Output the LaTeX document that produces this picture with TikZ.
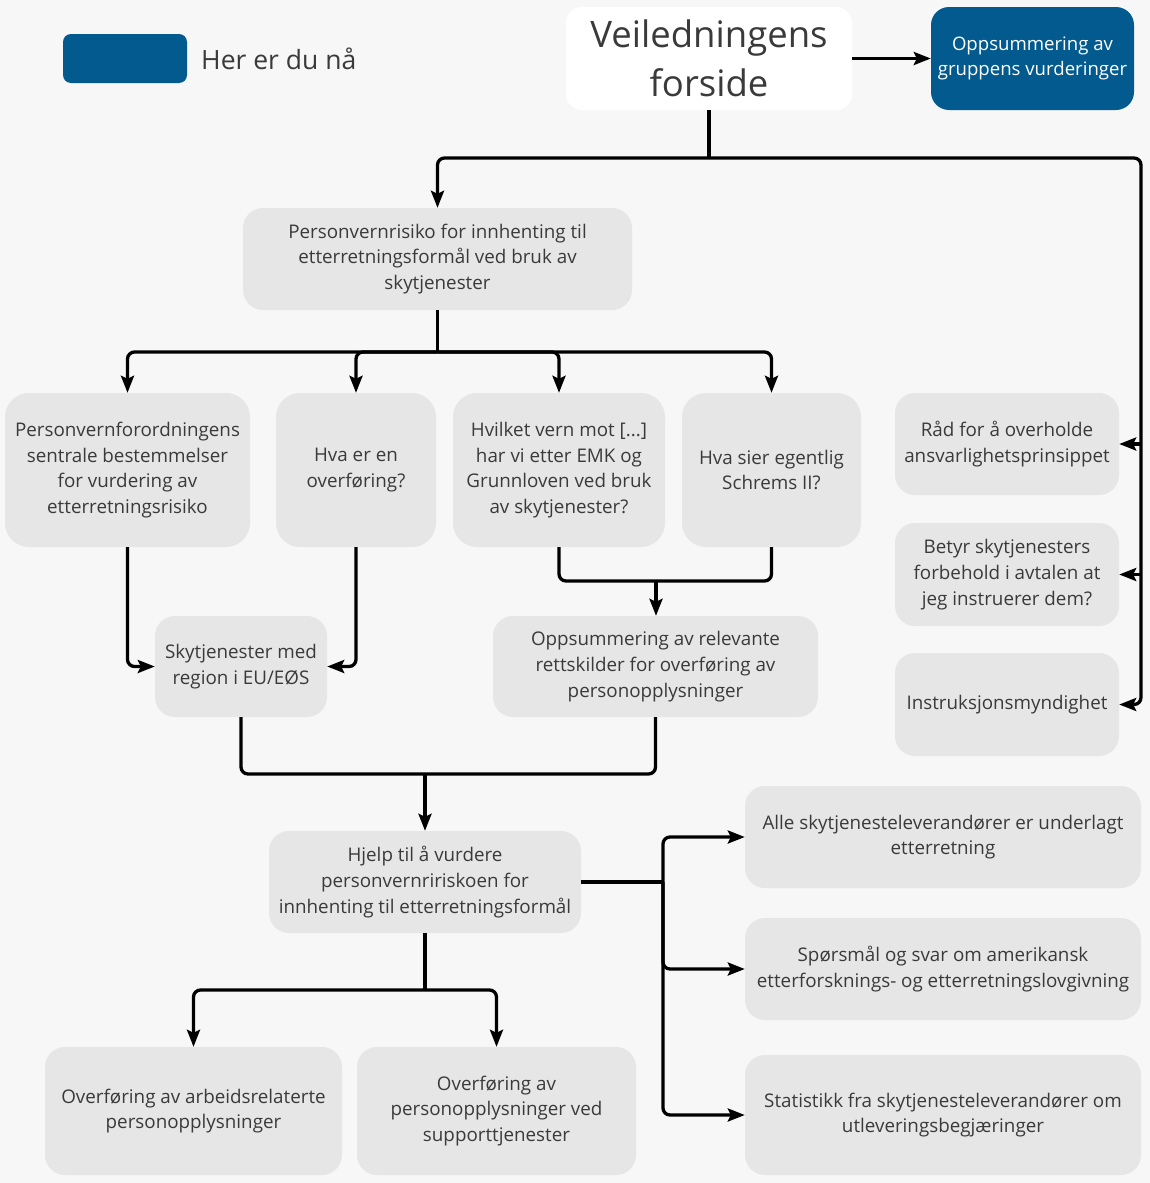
\documentclass[tikz,border=0pt]{standalone}
\usepackage{fontspec}
\setmainfont{Open Sans}
\usetikzlibrary{arrows.meta}
\definecolor{bg}{HTML}{F7F7F7}
\definecolor{boxgrey}{HTML}{E6E6E6}
\definecolor{txt}{HTML}{3A3A3A}
\definecolor{navy}{HTML}{035A8E}
\begin{document}
\begin{tikzpicture}[x=1pt,y=-1pt,
  box/.style={fill=boxgrey,rounded corners=20pt,inner sep=0pt,align=center,text=txt,
    font=\fontsize{18.8}{25.7}\selectfont},
  bluebox/.style={fill=navy,rounded corners=18pt,inner sep=0pt,align=center,text=white,
    font=\fontsize{18.6}{25}\selectfont},
  conn/.style={line width=3.3pt,draw=black,rounded corners=7pt},
  arr/.style={conn,-{Stealth[length=17pt,width=13pt,inset=3pt]}}]
\fill[bg] (0,0) rectangle (1150,1183);
\useasboundingbox (0,0) rectangle (1150,1183);
% legend
\node[fill=navy,rounded corners=8pt,minimum width=124pt,minimum height=49pt,inner sep=0pt] (leg) at (125,58.5) {};
\node[anchor=west,text=txt,font=\fontsize{26.5}{30}\selectfont,inner sep=0pt] (legt) at (201,59) {Her er du nå};
% top
\node[fill=white,rounded corners=16pt,minimum width=286pt,minimum height=103pt,inner sep=0pt,align=center,text=txt,
  font=\fontsize{36.5}{49}\selectfont] (vf) at (709,58.5) {Veiledningens\\forside};
\node[bluebox,minimum width=203pt,minimum height=103pt] (og) at (1032.5,58.5) {Oppsummering av\\gruppens vurderinger};
\node[box,minimum width=389pt,minimum height=102pt] (pr) at (437.5,259) {Personvernrisiko for innhenting til\\etterretningsformål ved bruk av\\skytjenester};
% row
\node[box,minimum width=245pt,minimum height=154pt,rounded corners=24pt] (a) at (127.5,470) {Personvernforordningens\\sentrale bestemmelser\\for vurdering av\\etterretningsrisiko};
\node[box,minimum width=160pt,minimum height=154pt,rounded corners=24pt] (b) at (356,470) {Hva er en\\overføring?};
\node[box,minimum width=212pt,minimum height=154pt,rounded corners=24pt] (c) at (559,470) {Hvilket vern mot [...]\\har vi etter EMK og\\Grunnloven ved bruk\\av skytjenester?};
\node[box,minimum width=179pt,minimum height=154pt,rounded corners=24pt] (d) at (771.5,470) {Hva sier egentlig\\Schrems II?};
% right column
\node[box,minimum width=224pt,minimum height=102pt] (r1) at (1007,444) {Råd for å overholde\\ansvarlighetsprinsippet};
\node[box,minimum width=224pt,minimum height=103pt] (r2) at (1007,574.5) {Betyr skytjenesters\\forbehold i avtalen at\\jeg instruerer dem?};
\node[box,minimum width=224pt,minimum height=103pt] (r3) at (1007,704.5) {Instruksjonsmyndighet};
% middle
\node[box,minimum width=172pt,minimum height=101pt] (sky) at (241,666.5) {Skytjenester med\\region i EU/EØS};
\node[box,minimum width=325pt,minimum height=101pt] (op) at (655.5,666.5) {Oppsummering av relevante\\rettskilder for overføring av\\personopplysninger};
\node[box,minimum width=312pt,minimum height=102pt] (hj) at (425,882) {Hjelp til å vurdere\\personvernririskoen for\\innhenting til etterretningsformål};
% bottom right
\node[box,minimum width=396pt,minimum height=102pt] (b1) at (943,837) {Alle skytjenesteleverandører er underlagt\\etterretning};
\node[box,minimum width=396pt,minimum height=102pt] (b2) at (943,969) {Spørsmål og svar om amerikansk\\etterforsknings- og etterretningslovgivning};
\node[box,minimum width=396pt,minimum height=120pt] (b3) at (943,1115) {Statistikk fra skytjenesteleverandører om\\utleveringsbegjæringer};
% bottom left
\node[box,minimum width=297pt,minimum height=128pt] (l1) at (193.5,1111) {Overføring av arbeidsrelaterte\\personopplysninger};
\node[box,minimum width=279pt,minimum height=128pt] (l2) at (496.5,1111) {Overføring av\\personopplysninger ved\\supporttjenester};
% junctions
\coordinate (j1) at (709,158);
\coordinate (rv) at (1141,158);
\coordinate (j2) at (437.5,352);
\coordinate (j3) at (656,581);
\coordinate (j4) at (425,774);
\coordinate (j5) at (663,882);
\coordinate (j6) at (425,990);
% connectors
\draw[arr] (vf.east) -- (og.west);
\draw[conn] (vf.south) -- (j1);
\draw[arr] (j1) -| (pr.north);
\draw[arr] (j1) -- (rv) -- (rv |- r3.east) -- (r3.east);
\draw[arr] (rv |- r1.east) -- (r1.east);
\draw[arr] (rv |- r2.east) -- (r2.east);
\draw[conn] (pr.south) -- (j2);
\draw[arr] (j2) -| (a.north);
\draw[arr] (j2) -| (b.north);
\draw[arr] (j2) -| (c.north);
\draw[arr] (j2) -| (d.north);
\draw[arr] (a.south) |- (sky.west);
\draw[arr] (b.south) |- (sky.east);
\draw[conn] (c.south) |- (j3);
\draw[conn] (d.south) |- (j3);
\draw[arr] (j3) -- (j3 |- op.north);
\draw[conn] (sky.south) |- (j4);
\draw[conn] (op.south) |- (j4);
\draw[arr] (j4) -- (hj.north);
\draw[conn] (hj.east) -- (j5);
\draw[arr] (j5) |- (b1.west);
\draw[arr] (j5) |- (b2.west);
\draw[arr] (j5) |- (b3.west);
\draw[conn] (hj.south) -- (j6);
\draw[arr] (j6) -| (l1.north);
\draw[arr] (j6) -| (l2.north);
\end{tikzpicture}
\end{document}
